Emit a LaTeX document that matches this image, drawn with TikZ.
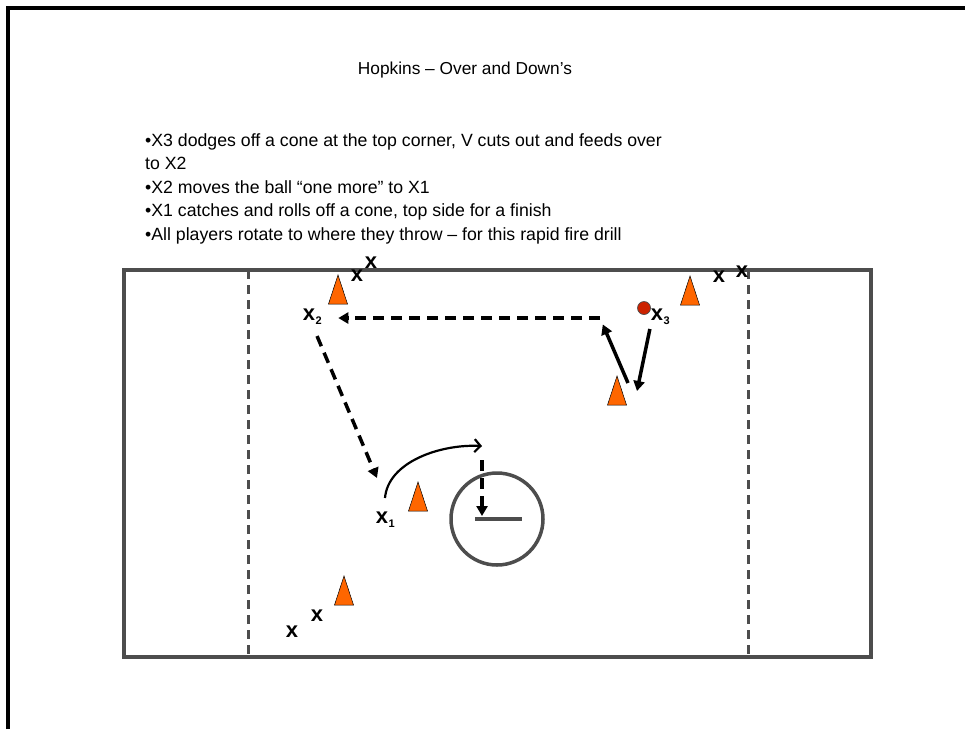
\documentclass[tikz,border=0pt]{standalone}
\usepackage{fontspec}
\setmainfont{Liberation Sans}
\usepackage{tikz}
\usepackage{xcolor}
\usetikzlibrary{arrows.meta,calc}

\definecolor{coneorange}{HTML}{FF6600}
\definecolor{fieldgray}{HTML}{4D4D4D}
\definecolor{ballred}{HTML}{CC2200}
\newcommand{\subnum}[1]{\raisebox{-4pt}{\fontsize{11}{11}\selectfont\kern0.5pt#1}}

\begin{document}
\begin{tikzpicture}[x=1pt, y=-1pt,
  field/.style={draw=fieldgray, line width=3.5pt},
  midline/.style={draw=fieldgray, line width=3pt, dash pattern=on 9pt off 6pt},
  cone/.style={fill=coneorange, draw=black, line width=0.5pt},
  player/.style={inner sep=0pt, font=\fontsize{22}{22}\selectfont\bfseries},
  pass/.style={line width=3.5pt, dash pattern=on 11pt off 7pt, -{Triangle[length=10pt,width=11pt]}},
  run/.style={line width=3.5pt, -{Triangle[length=10pt,width=11pt]}},
  carry/.style={line width=2.2pt, -{Straight Barb[length=6pt,width=13pt]}}]

\useasboundingbox (0,0) rectangle (965,729);
\draw[line width=3.5pt] (8,729) -- (8,8) -- (965,8);

\node[anchor=base, font=\fontsize{17.3}{20}\selectfont] (title) at (465,74) {Hopkins – Over and Down’s};
\node[anchor=north west, inner sep=0pt, align=left, font=\fontsize{17.7}{23.5}\selectfont] (notes) at (145,133)
  {•X3 dodges off a cone at the top corner, V cuts out and feeds over\\
   to X2\\
   •X2 moves the ball “one more” to X1\\
   •X1 catches and rolls off a cone, top side for a finish\\
   •All players rotate to where they throw – for this rapid fire drill};

% field
\draw[field] (124,270) rectangle (871,657);
\foreach \mx in {248,748}
  \draw[midline] (\mx,270) -- (\mx,657);

\node[circle, draw=fieldgray, line width=3.5pt, minimum size=92pt, inner sep=0pt] (crease) at (497,519) {};
\draw[fieldgray, line width=3.5pt] ([xshift=-22pt]crease.center) -- ([xshift=25pt]crease.center);

% cones
\foreach \cx/\cy in {338/304, 690/305, 617/405, 418/511, 344/605}
  \filldraw[cone] (\cx-9.5,\cy) -- (\cx+9.5,\cy) -- (\cx,\cy-29) -- cycle;

% players
\node[player] (lineTa) at (357,276) {x};
\node[player] (lineTb) at (371,263) {x};
\node[player] (lineRa) at (719,277) {x};
\node[player] (lineRb) at (742,272) {x};
\node[player] (lineBa) at (292,632) {x};
\node[player] (lineBb) at (317,616) {x};
\node[player] (x2) at (309,317) {x\rlap{\subnum{2}}};
\node[player] (x3) at (657,317) {x\rlap{\subnum{3}}};
\node[player] (x1) at (382,520) {x\rlap{\subnum{1}}};

\node[circle, fill=ballred, draw=black!70, line width=0.7pt, minimum size=13pt, inner sep=0pt] (ball) at (644,308) {};

\coordinate (plant) at (637,391);
\coordinate (cut) at (628,383);
\coordinate (release) at (600,318);
\coordinate (catch) at (377,478);
\coordinate (roll) at (385,498);
\coordinate (shot) at (482,446);

\draw[run, shorten <=4pt] (x3.south west) -- (plant);
\draw[run, shorten >=7pt] (cut) -- (release);
\draw[pass, shorten >=23pt] (release) -- (release -| x2.east);
\draw[pass, shorten <=12pt] (x2) -- (catch);
\draw[carry] (roll) .. controls (388,462) and (440,444) .. (shot);
\draw[pass, shorten <=14pt, shorten >=3pt] (shot) -- (shot |- crease.center);

\end{tikzpicture}
\end{document}
